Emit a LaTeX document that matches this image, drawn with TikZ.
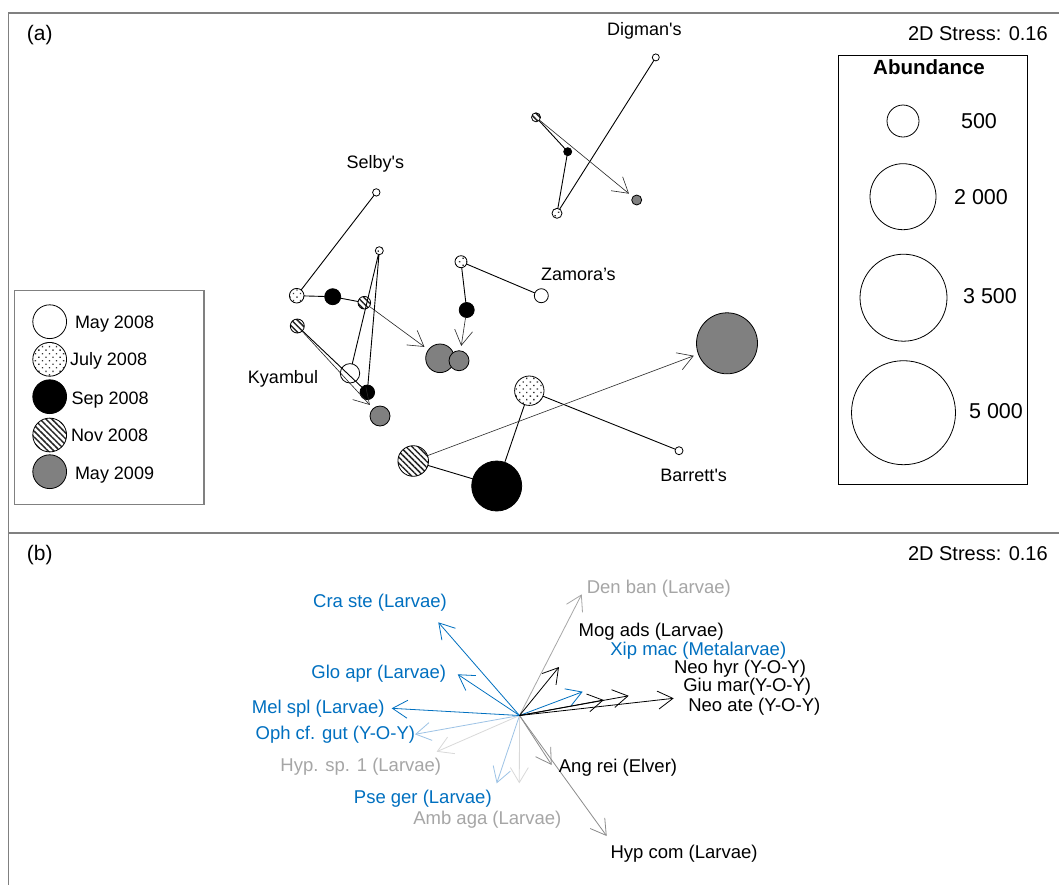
\documentclass[tikz,border=0pt]{standalone}
\usepackage{fontspec}
\setmainfont{Liberation Sans}[Ligatures=TeXOff]
\usetikzlibrary{arrows.meta,patterns.meta}
\definecolor{framec}{HTML}{808080}
\definecolor{mgray}{HTML}{808080}
\definecolor{blu}{RGB}{0,112,192}
\definecolor{lblu}{HTML}{9DC3E6}
\definecolor{lgray}{HTML}{A6A6A6}
\definecolor{vlgray}{HTML}{D9D9D9}
\definecolor{agray}{HTML}{8C8C8C}
\tikzset{
  mk/.style={circle, draw=black, line width=0.8pt, inner sep=0pt, outer sep=0pt, minimum size=#1},
  m08/.style={mk=#1, fill=white},
  j08/.style={mk=#1, preaction={fill=white}, pattern={Dots[distance=5pt,radius=0.95pt,angle=45]}, pattern color=black!80},
  s08/.style={mk=#1, fill=black},
  n08/.style={mk=#1, preaction={fill=white}, pattern={Lines[angle=-45,distance=4.2pt,line width=1.5pt]}, pattern color=black!85},
  m09/.style={mk=#1, fill=mgray},
  conn/.style={line width=0.9pt, draw=black},
  arr/.style={line width=0.6pt, draw=black!85, -{Straight Barb[length=15pt,width=18pt]}, shorten >=5pt},
  vec/.style={line width=0.8pt, -{Straight Barb[length=15pt,width=18pt]}},
  tA/.style={inner sep=0pt, outer sep=0pt, font=\fontsize{18}{20}\selectfont, text height=12.9pt, text depth=0pt},
  tB/.style={inner sep=0pt, outer sep=0pt, font=\fontsize{18.5}{20}\selectfont, text height=13.2pt, text depth=0pt},
  tS/.style={inner sep=0pt, outer sep=0pt, font=\fontsize{20}{22}\selectfont, text height=14.3pt, text depth=0pt},
  tP/.style={inner sep=0pt, outer sep=0pt, font=\fontsize{21}{23}\selectfont, text height=15pt, text depth=0pt},
  tT/.style={inner sep=0pt, outer sep=0pt, font=\bfseries\fontsize{20.5}{22}\selectfont, text height=14.7pt, text depth=0pt},
  tN/.style={inner sep=0pt, outer sep=0pt, font=\fontsize{21.5}{23}\selectfont, text height=15.4pt, text depth=0pt},
  framel/.style={line width=1.8pt, draw=framec},
  legbox/.style={line width=1.3pt, draw=framec},
  abbox/.style={line width=1pt, draw=black},
}
\begin{document}
\begin{tikzpicture}[x=1pt,y=-1pt]
\useasboundingbox (0,0) rectangle (1059,884);
\fill[white] (0,0) rectangle (1059,884);
% frame
\draw[framel] (1060,12.7) -- (8.4,12.7) -- (8.4,885);
\draw[framel] (8.4,532.7) -- (1060,532.7);
\node[tP, anchor=west] (pa) at (27,33.3) {(a)};
\node[tS, anchor=east] (sa) at (1047.7,33.3) {2D Stress: 0.16};
\node[tP, anchor=west] (pb) at (27,553.3) {(b)};
\node[tS, anchor=east] (sb) at (1047.7,553.3) {2D Stress: 0.16};

% ---- panel (a) points
\node[m08=7.4] (s1) at (376.3,192.4) {};
\node[j08=14.6] (s2) at (296.7,295.7) {};
\node[s08=16] (s3) at (332.7,296.7) {};
\node[n08=12.6] (s4) at (364.3,302.7) {};
\node[m09=28.6] (s5) at (440,358.3) {};

\node[m08=19.4] (k1) at (350,373.3) {};
\node[j08=8] (k2) at (379.3,250.7) {};
\node[s08=14.6] (k3) at (367.3,392.3) {};
\node[n08=14] (k4) at (297.3,326) {};
\node[m09=20] (k5) at (380,416) {};

\node[m08=14] (z1) at (541.3,295.7) {};
\node[j08=12] (z2) at (461,261.7) {};
\node[s08=15] (z3) at (466.7,310) {};
\node[m09=20] (z5) at (459,360.7) {};

\node[m08=7] (d1) at (655.8,57.4) {};
\node[j08=10] (d2) at (557,213.3) {};
\node[s08=8] (d3) at (567.7,151.7) {};
\node[n08=9] (d4) at (536,117.3) {};
\node[m09=10] (d5) at (636.7,200) {};

\node[m08=8] (b1) at (679,450.7) {};
\node[j08=29.4] (b2) at (529.3,390.7) {};
\node[s08=50] (b3) at (496.7,486) {};
\node[n08=30.6] (b4) at (413.2,461) {};
\node[m09=61] (b5) at (727,343.3) {};

% trajectories
\draw[conn] (s1)--(s2) (s2)--(s3) (s3)--(s4);
\draw[arr] (s4)--(s5);
\draw[conn] (k1)--(k2) (k2)--(k3) (k3)--(k4);
\draw[arr] (k4)--(k5);
\draw[conn] (z1)--(z2) (z2)--(z3);
\draw[arr] (z3)--(z5);
\draw[conn] (d1)--(d2) (d2)--(d3) (d3)--(d4);
\draw[arr] (d4)--(d5);
\draw[conn] (b1)--(b2) (b2)--(b3) (b3)--(b4);
\draw[arr] (b4)--(b5);

% site labels
\node[tA] (lselby) at (375.3,161.7) {Selby's};
\node[tA] (ldigman) at (644.4,29) {Digman's};
\node[tA] (lzamora) at (578.4,274) {Zamora’s};
\node[tA] (lkyambul) at (283,377.3) {Kyambul};
\node[tA] (lbarrett) at (693.7,475) {Barrett's};

% legend (time)
\draw[legbox] (14.2,290.7) rectangle (203.9,504.3);
\node[m08=33.8] (g1) at (49.7,321.7) {};
\node[j08=33.8] (g2) at (49.7,359.3) {};
\node[s08=33.8] (g3) at (49.7,396.7) {};
\node[n08=33.8] (g4) at (49.7,435) {};
\node[m09=33.8] (g5) at (49.7,471.7) {};
\node[tA, anchor=west] (gt1) at (75,321.7) {May 2008};
\node[tA, anchor=west] (gt2) at (70,359.3) {July 2008};
\node[tA, anchor=west] (gt3) at (71.7,398) {Sep 2008};
\node[tA, anchor=west] (gt4) at (71,435) {Nov 2008};
\node[tA, anchor=west] (gt5) at (75,473) {May 2009};

% legend (abundance)
\draw[abbox] (838,55) rectangle (1027,484.3);
\node[tT] (abt) at (929,67.3) {Abundance};
\node[m08=32] (a1) at (903,121) {};
\node[m08=66] (a2) at (903,196.7) {};
\node[m08=87] (a3) at (903.5,297.7) {};
\node[m08=104] (a4) at (903.5,412.7) {};
\node[tN] (at1) at (979,121) {500};
\node[tN] (at2) at (981,196.7) {2 000};
\node[tN] (at3) at (990,295.7) {3 500};
\node[tN] (at4) at (996,411) {5 000};

% ---- panel (b) vectors
\coordinate (O) at (519.5,715.5);
\coordinate (tcra) at (438.3,622.3);
\coordinate (tglo) at (457.7,674.3);
\coordinate (tmel) at (391.7,708.3);
\coordinate (toph) at (415,734.3);
\coordinate (thyp) at (436.7,751.7);
\coordinate (tpse) at (496.7,783.3);
\coordinate (tamb) at (519.3,783.3);
\coordinate (tden) at (581.7,594.3);
\coordinate (tmog) at (559,667);
\coordinate (txip) at (582.7,691.7);
\coordinate (tnhy) at (603.7,700);
\coordinate (tgiu) at (628.7,695.8);
\coordinate (tnat) at (673.7,698.3);
\coordinate (tang) at (551.7,765);
\coordinate (thco) at (606.7,836);

\draw[vec, draw=vlgray] (O)--(thyp);
\draw[vec, draw=vlgray] (O)--(tamb);
\draw[vec, draw=lgray] (O)--(tden);
\draw[vec, draw=lblu] (O)--(toph);
\draw[vec, draw=lblu] (O)--(tpse);
\draw[vec, draw=agray] (O)--(tang);
\draw[vec, draw=agray] (O)--(thco);
\draw[vec, draw=blu] (O)--(tcra);
\draw[vec, draw=blu] (O)--(tglo);
\draw[vec, draw=blu] (O)--(tmel);
\draw[vec, draw=blu] (O)--(txip);
\draw[vec, draw=black] (O)--(tmog);
\draw[vec, draw=black] (O)--(tnhy);
\draw[vec, draw=black] (O)--(tgiu);
\draw[vec, draw=black] (O)--(tnat);

% vector labels
\node[tB, text=blu] (lcra) at (380,600.7) {Cra ste (Larvae)};
\node[tB, text=blu] (lglo) at (378.8,672.3) {Glo apr (Larvae)};
\node[tB, text=blu] (lmel) at (318.3,706.7) {Mel spl (Larvae)};
\node[tB, text=blu] (loph) at (335.3,733.3) {Oph cf. gut (Y-O-Y)};
\node[tB, text=lgray] (lhyp) at (360.8,765) {Hyp. sp. 1 (Larvae)};
\node[tB, text=blu] (lpse) at (422.8,797.3) {Pse ger (Larvae)};
\node[tB, text=lgray, anchor=west] (lamb) at (413.3,818.3) {Amb aga (Larvae)};
\node[tB, text=lgray] (lden) at (658.8,586.7) {Den ban (Larvae)};
\node[tB] (lmog) at (651.2,630) {Mog ads (Larvae)};
\node[tB, text=blu] (lxip) at (698.3,649) {Xip mac (Metalarvae)};
\node[tB, anchor=west] (lnhy) at (674,666.7) {Neo hyr (Y-O-Y)};
\node[tB, anchor=west] (lgiu) at (683.3,685) {Giu mar(Y-O-Y)};
\node[tB, anchor=west] (lnat) at (688.3,705) {Neo ate (Y-O-Y)};
\node[tB] (lang) at (618,766) {Ang rei (Elver)};
\node[tB] (lhco) at (684,851.7) {Hyp com (Larvae)};
\end{tikzpicture}
\end{document}
